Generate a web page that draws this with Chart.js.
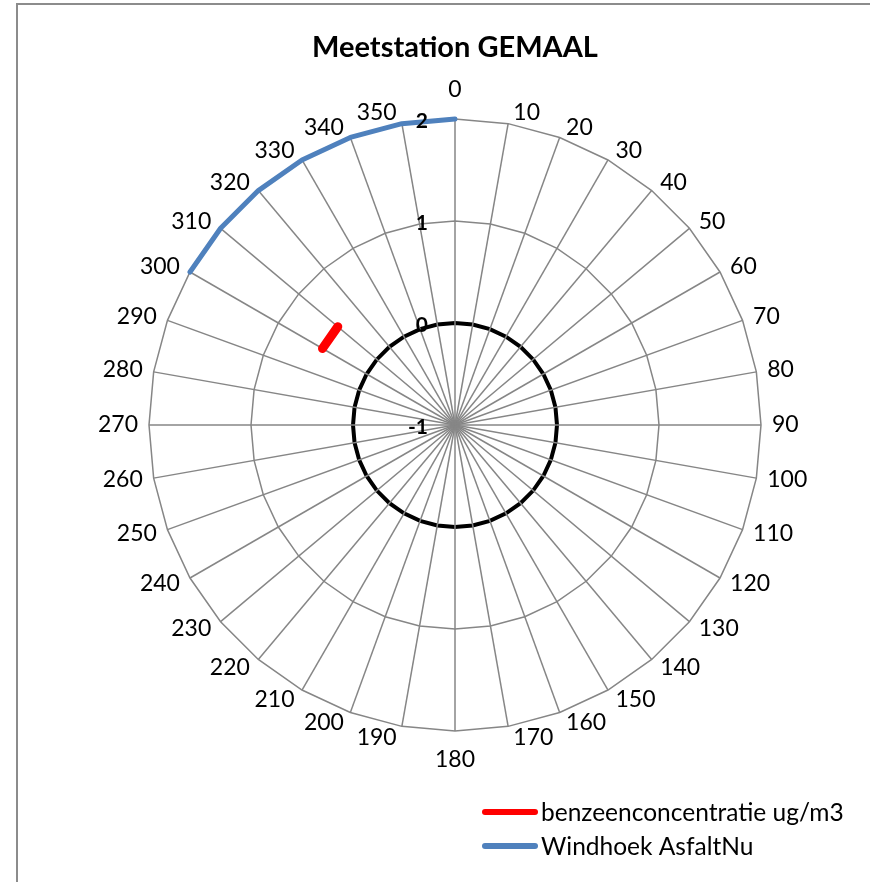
<!DOCTYPE html>
<html>
<head>
<meta charset="utf-8">
<script src="https://cdn.jsdelivr.net/npm/chart.js@4.4.1/dist/chart.umd.min.js"></script>
<style>
  html, body { margin: 0; padding: 0; background: #fff; }
  #wrap { position: relative; width: 870px; height: 882px; }
</style>
</head>
<body>
<div id="wrap"><canvas id="myChart" width="870" height="882"></canvas></div>
<script>
// wind directions (degrees)
var directions = ['0', '10', '20', '30', '40', '50', '60', '70', '80', '90', '100', '110',
    '120', '130', '140', '150', '160', '170', '180', '190', '200', '210', '220', '230',
    '240', '250', '260', '270', '280', '290', '300', '310', '320', '330', '340', '350'];

// benzeenconcentratie ug/m3
var benzeen = [null, null, null, null, null, null, null, null, null, null, null, null,
    null, null, null, null, null, null, null, null, null, null, null, null,
    null, null, null, null, null, null, 0.5, 0.5, null, null, null, null];

// Windhoek AsfaltNu
var windhoek = [2, null, null, null, null, null, null, null, null, null, null, null,
    null, null, null, null, null, null, null, null, null, null, null, null,
    null, null, null, null, null, null, 2, 2, 2, 2, 2, 2];

var seriesNames = ['benzeenconcentratie ug/m3', 'Windhoek AsfaltNu'];
var rMin = -1, rMax = 2, rStep = 1;

const FONT = "Lato, 'Open Sans', sans-serif";

// outer chart frame (like the excel chart area border)
const framePlugin = {
    id: 'frame',
    beforeDraw(chart) {
        const ctx = chart.ctx;
        ctx.save();
        ctx.strokeStyle = '#8c8c8c';
        ctx.lineWidth = 2;
        ctx.beginPath();
        ctx.moveTo(17, chart.height + 5);
        ctx.lineTo(17, 4);
        ctx.lineTo(chart.width + 5, 4);
        ctx.stroke();
        ctx.restore();
    }
};

// direction labels placed excel-style around the outer ring
const directionLabelPlugin = {
    id: 'directionLabels',
    afterDraw(chart) {
        const scale = chart.scales.r;
        const ctx = chart.ctx;
        const labels = chart.data.labels;
        ctx.save();
        ctx.font = '23px ' + FONT;
        ctx.fillStyle = '#000';
        ctx.textAlign = 'center';
        ctx.textBaseline = 'middle';
        labels.forEach(function (lab, i) {
            const p = scale.getPointPosition(i, scale.drawingArea);
            const a = scale.getIndexAngle(i);
            const s = Math.sin(a), c = Math.cos(a);
            const w = ctx.measureText(lab).width;
            let dx = 0, dy;
            if (Math.abs(s) < 0.01) {
                dy = -Math.sign(c) * 29;
            } else {
                dx = Math.sign(s) * (w / 2 + 4 + 7 * Math.abs(s));
                dy = -c * 11;
            }
            ctx.fillText(lab, p.x + dx, p.y + dy);
        });
        ctx.restore();
    }
};

// radial tick labels, drawn left of the 0 degree axis
const tickLabelPlugin = {
    id: 'tickLabels',
    afterDatasetsDraw(chart) {
        const scale = chart.scales.r;
        const ctx = chart.ctx;
        ctx.save();
        ctx.font = 'bold 21px ' + FONT;
        ctx.fillStyle = '#000';
        ctx.textAlign = 'right';
        ctx.textBaseline = 'middle';
        scale.ticks.forEach(function (t) {
            const d = scale.getDistanceFromCenterForValue(t.value);
            ctx.fillText(String(t.value), scale.xCenter - 27, scale.yCenter - d + 2);
        });
        ctx.restore();
    }
};

// legend in the lower right corner
const legendPlugin = {
    id: 'cornerLegend',
    afterDraw(chart) {
        const ctx = chart.ctx;
        ctx.save();
        ctx.font = '24.5px ' + FONT;
        ctx.textBaseline = 'middle';
        ctx.textAlign = 'left';
        chart.data.datasets.forEach(function (ds, i) {
            const y = 812 + i * 34;
            ctx.strokeStyle = ds.borderColor;
            ctx.lineWidth = 6;
            ctx.lineCap = 'round';
            ctx.beginPath();
            ctx.moveTo(485, y);
            ctx.lineTo(535, y);
            ctx.stroke();
            ctx.fillStyle = '#000';
            ctx.fillText(ds.label, 541, y + 1);
        });
        ctx.restore();
    }
};

(function () {
    var ctx = document.querySelector('#myChart');
    new Chart(ctx, {
        type: 'radar',
        data: {
            labels: directions,
            datasets: [{
                label: seriesNames[0],
                data: benzeen,
                borderColor: '#ff0000',
                borderWidth: 9,
                borderCapStyle: 'round',
                borderJoinStyle: 'round',
                pointRadius: 0,
                fill: false,
                spanGaps: false
            }, {
                label: seriesNames[1],
                data: windhoek,
                borderColor: '#4f81bd',
                borderWidth: 5,
                borderCapStyle: 'round',
                borderJoinStyle: 'round',
                pointRadius: 0,
                fill: false,
                spanGaps: false
            }]
        },
        options: {
            responsive: false,
            animation: false,
            layout: {
                padding: { left: 149, right: 109, top: 20, bottom: 151 }
            },
            elements: { line: { tension: 0 } },
            plugins: {
                legend: { display: false },
                tooltip: { enabled: false },
                title: {
                    display: true,
                    text: 'Meetstation GEMAAL',
                    color: '#000',
                    font: { family: FONT, size: 29, weight: 'bold' },
                    padding: { top: 10, bottom: 54.2 }
                }
            },
            scales: {
                r: {
                    min: rMin,
                    max: rMax,
                    startAngle: 0,
                    ticks: { display: false, stepSize: rStep },
                    grid: {
                        color: function (c) { return c.tick && c.tick.value === 0 ? '#000' : '#868686'; },
                        lineWidth: function (c) { return c.tick && c.tick.value === 0 ? 4 : 1.5; }
                    },
                    angleLines: { color: '#868686', lineWidth: 1.5 },
                    pointLabels: { display: false }
                }
            }
        },
        plugins: [framePlugin, directionLabelPlugin, tickLabelPlugin, legendPlugin]
    });
})();
</script>
</body>
</html>
